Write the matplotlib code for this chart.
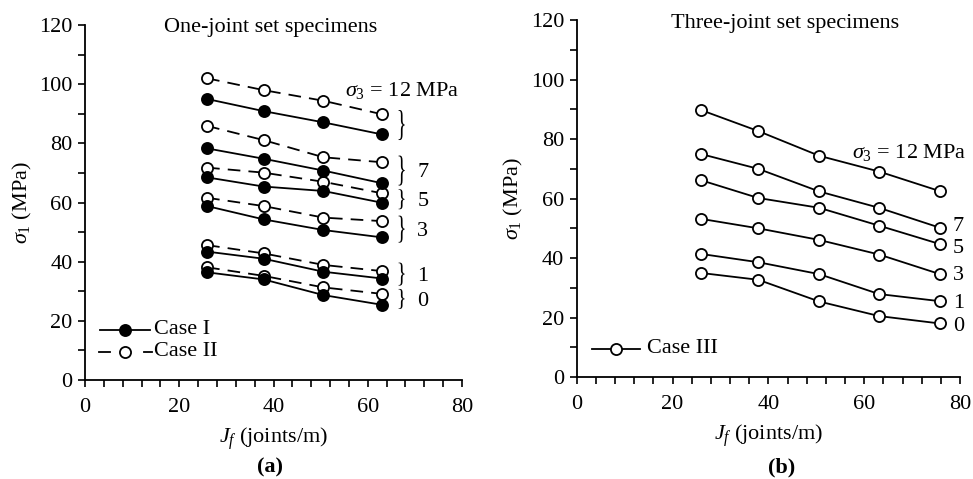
import matplotlib.pyplot as plt
from matplotlib.ticker import MultipleLocator
from matplotlib.textpath import TextPath
from matplotlib.patches import PathPatch
from matplotlib.font_manager import FontProperties
from matplotlib.transforms import Affine2D

plt.rcParams['font.family'] = ['Liberation Serif', 'DejaVu Serif']
plt.rcParams['mathtext.fontset'] = 'custom'
plt.rcParams['mathtext.rm'] = 'Liberation Serif'
plt.rcParams['mathtext.it'] = 'Liberation Serif:italic'

# (a) one-joint set specimens
jf_a = [25.9, 37.9, 50.6, 63.1]
sig3_a = [12, 7, 5, 3, 1, 0]
case1 = [
    [95.0, 90.9, 87.1, 83.0],
    [78.3, 74.8, 70.8, 66.5],
    [68.5, 65.4, 63.9, 59.9],
    [58.8, 54.3, 50.7, 48.2],
    [43.4, 41.0, 36.6, 34.3],
    [36.4, 34.0, 28.7, 25.4],
]
case2 = [
    [102.0, 98.0, 94.4, 89.8],
    [85.9, 81.1, 75.3, 73.6],
    [71.8, 70.1, 67.0, 63.1],
    [61.6, 58.8, 54.9, 53.7],
    [45.6, 42.8, 38.9, 36.8],
    [38.1, 35.2, 31.3, 29.1],
]

# (b) three-joint set specimens
jf_b = [25.9, 37.9, 50.6, 63.1, 75.8]
case3 = [
    [89.8, 82.7, 74.4, 69.1, 62.5],
    [75.0, 70.0, 62.4, 56.9, 50.2],
    [66.2, 60.2, 56.9, 50.9, 44.7],
    [53.2, 50.0, 46.1, 41.2, 34.6],
    [41.4, 38.6, 34.6, 27.9, 25.5],
    [35.0, 32.7, 25.4, 20.5, 18.0],
]

fs = 16
fig = plt.figure(figsize=(9.73, 4.79), dpi=100)
ax1 = fig.add_axes([0.0874, 0.2067, 0.3874, 0.741])
ax2 = fig.add_axes([0.5927, 0.2129, 0.394, 0.745])

mk = dict(marker='o', markersize=8, markeredgewidth=1.3, color='black', lw=1.3)
for s1, s2 in zip(case1, case2):
    ax1.plot(jf_a, s2, linestyle=(0, (7, 4.5)), markerfacecolor='white', zorder=2, **mk)
    ax1.plot(jf_a, s1, linestyle='-', markerfacecolor='black', zorder=3, **mk)

for s in case3:
    ax2.plot(jf_b, s, linestyle='-', markerfacecolor='white', **mk)

for ax in (ax1, ax2):
    ax.set_xlim(0, 80)
    ax.set_ylim(0, 120)
    ax.xaxis.set_major_locator(MultipleLocator(20))
    ax.xaxis.set_minor_locator(MultipleLocator(4))
    ax.yaxis.set_major_locator(MultipleLocator(20))
    ax.yaxis.set_minor_locator(MultipleLocator(10))
    ax.tick_params(which='both', direction='out', length=5, width=1.2, labelsize=fs)
    ax.tick_params(axis='x', which='major', pad=8)
    ax.tick_params(axis='y', which='major', pad=4)
    ax.spines['top'].set_visible(False)
    ax.spines['right'].set_visible(False)
    ax.spines['left'].set_linewidth(1.3)
    ax.spines['bottom'].set_linewidth(1.3)
    ax.set_ylabel(r'$\sigma_1$ (MPa)', fontsize=fs, labelpad=4)
ax1.set_xlabel(r'$J_f$ (joints/m)', fontsize=fs, labelpad=6)
ax2.set_xlabel(r'$J_f$ (joints/m)', fontsize=fs, labelpad=6)

ax1.text(39.3, 119.3, 'One-joint set specimens', fontsize=fs, ha='center', va='center')
ax2.text(43.5, 119, 'Three-joint set specimens', fontsize=fs, ha='center', va='center')

# thin, stretched curly brace drawn from the glyph outline
brace = TextPath((0, 0), '}', size=1, prop=FontProperties(family='Liberation Serif'))
bx0, by0 = brace.vertices.min(axis=0)
bx1, by1 = brace.vertices.max(axis=0)


def add_brace(ax, x, y, h_px, w_px=8):
    px, py = ax.transData.transform((x, y))
    tr = (Affine2D().translate(-(bx0 + bx1) / 2, -(by0 + by1) / 2)
          .scale(w_px / (bx1 - bx0), h_px / (by1 - by0)).translate(px, py))
    fig.add_artist(PathPatch(tr.transform_path(brace), facecolor='black',
                             edgecolor='none', transform=None))


# (a) annotations
ax1.text(55.2, 98.0, r'$\sigma_3$ = 12 MPa', fontsize=fs, ha='left', va='center')
brace_y = [86.2, 70.8, 61.1, 51.0, 35.8, 27.4]
brace_h = [30, 30, 20, 27, 23, 20]
for lab, by, bh in zip(sig3_a, brace_y, brace_h):
    add_brace(ax1, 67.0, by, bh)
    if lab != 12:
        ax1.text(70.5, by - 0.8, str(lab), fontsize=fs, ha='left', va='center')

# (b) annotations
ax2.text(57.5, 75.6, r'$\sigma_3$ = 12 MPa', fontsize=fs, ha='left', va='center', clip_on=False)
lab_y = [50.5, 43.3, 34.0, 24.8, 16.9]
for lab, ly in zip(sig3_a[1:], lab_y):
    ax2.text(78.5, ly, str(lab), fontsize=fs, ha='left', va='center', clip_on=False)

# legends
ax1.plot([3.2, 13.8], [17.0, 17.0], color='black', lw=1.3)
ax1.plot([8.5], [17.0], 'o', markersize=8, color='black', markeredgewidth=1.3)
ax1.text(14.6, 17.0, 'Case I', fontsize=fs, va='center')
ax1.plot([3.0, 5.3], [9.5, 9.5], color='black', lw=1.3)
ax1.plot([12.5, 14.3], [9.5, 9.5], color='black', lw=1.3)
ax1.plot([8.5], [9.5], 'o', markersize=8, color='black', markerfacecolor='white', markeredgewidth=1.3)
ax1.text(14.6, 9.5, 'Case II', fontsize=fs, va='center')

ax2.plot([3.1, 13.2], [9.5, 9.5], color='black', lw=1.3)
ax2.plot([8.2], [9.5], 'o', markersize=8, color='black', markerfacecolor='white', markeredgewidth=1.3)
ax2.text(14.7, 9.5, 'Case III', fontsize=fs, va='center')

fig.text(270 / 973, 1 - 467 / 479, '(a)', fontsize=fs, fontweight='bold', ha='center', va='center')
fig.text(782 / 973, 1 - 467 / 479, '(b)', fontsize=fs, fontweight='bold', ha='center', va='center')

fig.savefig('out.png', dpi=100)
